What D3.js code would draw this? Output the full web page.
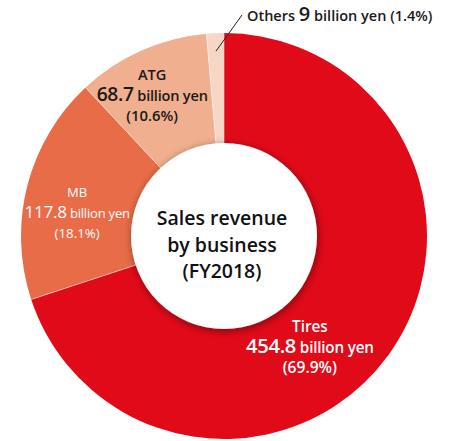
<!DOCTYPE html>
<html>
<head>
<meta charset="utf-8">
<script src="https://cdn.jsdelivr.net/npm/d3@7"></script>
<style>
  body { margin: 0; background: #fff; }
  svg text { font-family: "Open Sans", sans-serif; }
</style>
</head>
<body>
<svg id="chart" width="451" height="441"></svg>
<script>
// sales revenue by business, FY2018
var categories = ["Tires", "MB", "ATG", "Others"];
var values = [454.8, 117.8, 68.7, 9];
var percents = ["69.9%", "18.1%", "10.6%", "1.4%"];
var colors = ["#e10a19", "#e86c48", "#f0af8f", "#f8d6c6"];
var centerLines = ["Sales revenue", "by business", "(FY2018)"];

var width = 451, height = 441;
var cx = 224, cy = 236;
var outer_r = 203, inner_r = 93;

var svg = d3.select("#chart");

// soft shadow under the centre disc
var defs = svg.append("defs");
var f = defs.append("filter").attr("id", "shadow")
    .attr("x", "-30%").attr("y", "-30%").attr("width", "160%").attr("height", "160%");
f.append("feGaussianBlur").attr("in", "SourceAlpha").attr("stdDeviation", 4);
f.append("feOffset").attr("dx", 1).attr("dy", 2).attr("result", "b");
f.append("feComponentTransfer").append("feFuncA").attr("type", "linear").attr("slope", 0.45);
var m = f.append("feMerge");
m.append("feMergeNode");
m.append("feMergeNode").attr("in", "SourceGraphic");

var g = svg.append("g").attr("transform", "translate(" + cx + "," + cy + ")");

var pie = d3.pie().sort(null).value(function(d) { return d; });
var arcs = pie(values);

var arc = d3.arc().innerRadius(inner_r - 10).outerRadius(outer_r);

g.selectAll(".slice")
  .data(arcs)
  .enter().append("path")
    .attr("class", "slice")
    .attr("d", arc)
    .attr("fill", function(d, i) { return colors[i]; });

// thin separators between slices
g.selectAll(".sep")
  .data(arcs)
  .enter().append("line")
    .attr("x1", 0).attr("y1", 0)
    .attr("x2", function(d) { return outer_r * Math.sin(d.startAngle); })
    .attr("y2", function(d) { return -outer_r * Math.cos(d.startAngle); })
    .attr("stroke", "#fff").attr("stroke-width", 0.8).attr("opacity", 0.6);

// centre disc
g.append("circle")
  .attr("r", inner_r)
  .attr("fill", "#fff")
  .attr("filter", "url(#shadow)");

g.selectAll(".ctr")
  .data(centerLines)
  .enter().append("text")
    .attr("x", -2)
    .attr("y", function(d, i) { return -11 + i * 26.5; })
    .attr("text-anchor", "middle")
    .style("font-size", "19.5px")
    .style("font-weight", 600)
    .attr("fill", "#111")
    .text(function(d) { return d; });

// label anchors (polar, degrees clockwise from top), scale and text colours
var labelPos = [
  {a: 143.7, r: 145, k: 1.09, color: "#fff", w: 600},
  {a: 277, r: 148, k: 0.93, color: "#fff", w: 500},
  {a: 332, r: 153, k: 1.04, color: "#1a1a1a", w: 600}
];

[0, 1, 2].forEach(function(i) {
  var p = labelPos[i];
  var rad = p.a * Math.PI / 180;
  var lx = p.r * Math.sin(rad), ly = -p.r * Math.cos(rad);
  var lg = g.append("g").attr("transform", "translate(" + lx + "," + ly + ")")
      .attr("fill", p.color).attr("text-anchor", "middle")
      .style("font-weight", p.w);
  lg.append("text").attr("y", -20.5).style("font-size", (14 * p.k) + "px")
    .text(categories[i]);
  var t = lg.append("text").attr("y", 0);
  t.append("tspan").style("font-size", (18.5 * p.k) + "px").style("letter-spacing", "-0.3px").text(values[i]);
  t.append("tspan").style("font-size", (14 * p.k) + "px").style("letter-spacing", "-0.2px").text(" billion yen");
  lg.append("text").attr("y", 20).style("font-size", (14.3 * p.k) + "px")
    .text("(" + percents[i] + ")");
});

// Others: leader line and outside label
var o = arcs[3];
var oa = (o.startAngle + o.endAngle) / 2;
var p0 = [185 * Math.sin(oa), -185 * Math.cos(oa)];
g.append("line")
  .attr("x1", p0[0]).attr("y1", p0[1])
  .attr("x2", 18).attr("y2", -221)
  .attr("stroke", "#222").attr("stroke-width", 1);

var ot = g.append("text").attr("x", 23).attr("y", -215).attr("fill", "#1a1a1a")
    .style("font-weight", 600);
ot.append("tspan").style("font-size", "14.5px").text(categories[3] + " ");
ot.append("tspan").style("font-size", "20px").text(values[3]);
ot.append("tspan").style("font-size", "14.5px").text(" billion yen (" + percents[3] + ")");
</script>
</body>
</html>
